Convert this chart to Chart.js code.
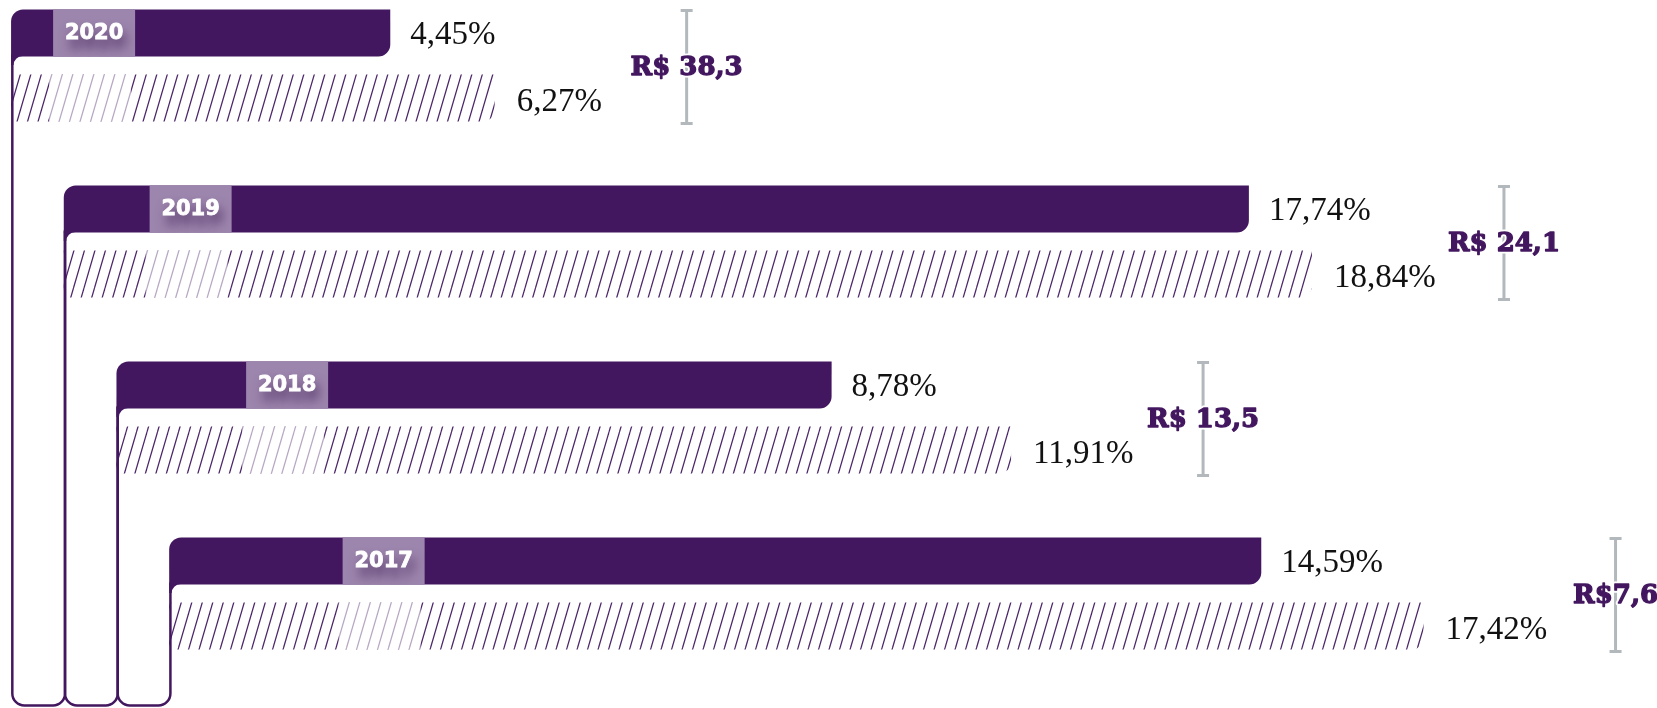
<!DOCTYPE html>
<html>
<head>
<meta charset="utf-8">
<script src="https://cdn.jsdelivr.net/npm/chart.js@4.4.1/dist/chart.umd.min.js"></script>
<style>
  html, body { margin: 0; padding: 0; background: #fff; }
  canvas { display: block; }
</style>
</head>
<body>
<canvas id="chart" width="1657" height="708"></canvas>
<script>
// values
const years = ['2020', '2019', '2018', '2017'];
const solidValues = [4.45, 17.74, 8.78, 14.59];
const hatchedValues = [6.27, 18.84, 11.91, 17.42];
const revenueLabels = ['R$ 38,3', 'R$ 24,1', 'R$ 13,5', 'R$7,6'];

// layout, in x-axis units (percentage points)
const X_MIN = -2.356, X_MAX = 26.54;
const ZERO_STEP = 1.683;            // each year block starts further right
const LEFT_0 = -2.163, LEFT_STEP = 0.919;
const zeroOf = i => i * ZERO_STEP;
const leftOf = i => LEFT_0 + i * LEFT_STEP;

const PURPLE = '#43175f';
const BOX_PURPLE = '#9d86ae';
const BOX_W = 82;

function makeHatch(color) {
  const c = document.createElement('canvas');
  c.width = 10.5; c.height = 36;
  c.width = 21; c.height = 72;   // two lines per tile keeps spacing at 10.5px
  const g = c.getContext('2d');
  g.strokeStyle = color;
  g.lineWidth = 1.25;
  for (const dx of [-21, -10.5, 0, 10.5, 21]) {
    g.beginPath();
    g.moveTo(dx, 72);
    g.lineTo(dx + 21, 0);
    g.stroke();
  }
  return g.createPattern(c, 'repeat');
}

const fmt = v => v.toFixed(2).replace('.', ',') + '%';

const decor = {
  id: 'decor',
  afterDatasetsDraw(chart) {
    const ctx = chart.ctx;
    const x = chart.scales.x;
    const solid = chart.getDatasetMeta(0).data.map(b => b.getProps(['x', 'y', 'base', 'height'], true));
    const hatch = chart.getDatasetMeta(1).data.map(b => b.getProps(['x', 'y', 'base', 'height'], true));
    const lx = years.map((_, i) => x.getPixelForValue(leftOf(i)) + 1.25);
    const yb = chart.height - 2.5;
    const r = 12;

    // staircase outline on the left
    ctx.save();
    ctx.strokeStyle = PURPLE;
    ctx.fillStyle = PURPLE;
    ctx.lineWidth = 2.5;
    for (let i = 0; i < years.length - 1; i++) {
      const t0 = solid[i].y + solid[i].height / 2 - 2;
      const t1 = solid[i + 1].y + solid[i + 1].height / 2 - 2;
      ctx.beginPath();
      ctx.moveTo(lx[i], t0);
      ctx.lineTo(lx[i], yb - r);
      ctx.arcTo(lx[i], yb, lx[i] + r, yb, r);
      ctx.lineTo(lx[i + 1] - r, yb);
      ctx.arcTo(lx[i + 1], yb, lx[i + 1], yb - r, r);
      ctx.lineTo(lx[i + 1], t1);
      ctx.stroke();
    }
    // inner rounded corner under each solid bar
    years.forEach((_, i) => {
      const gl = lx[i] - 1.25, sb = solid[i].y + solid[i].height / 2 - 0.5, fr = 9;
      ctx.beginPath();
      ctx.moveTo(gl, sb);
      ctx.lineTo(gl + 2.5 + fr, sb);
      ctx.arcTo(gl + 2.5, sb, gl + 2.5, sb + fr, fr);
      ctx.lineTo(gl, sb + fr);
      ctx.closePath();
      ctx.fill();
    });
    ctx.restore();

    years.forEach((yr, i) => {
      const s = solid[i], h = hatch[i];
      const sTop = s.y - s.height / 2;
      const hTop = h.y - h.height / 2, hBot = h.y + h.height / 2;
      const zx = x.getPixelForValue(zeroOf(i));
      const bx = zx - BOX_W;

      // faded hatch under the year tag
      ctx.fillStyle = 'rgba(255,255,255,0.6)';
      ctx.fillRect(bx - 4, hTop, BOX_W, h.height);

      // year tag
      ctx.fillStyle = BOX_PURPLE;
      ctx.fillRect(bx, sTop, BOX_W, s.height);
      ctx.save();
      ctx.beginPath();
      ctx.rect(bx, sTop, BOX_W, s.height);
      ctx.clip();
      ctx.shadowColor = 'rgba(55,20,75,0.85)';
      ctx.shadowBlur = 12;
      ctx.shadowOffsetX = 3;
      ctx.shadowOffsetY = 9;
      ctx.fillStyle = '#ffffff';
      ctx.strokeStyle = '#ffffff';
      ctx.lineWidth = 0.8;
      ctx.font = 'bold 21px "DejaVu Sans"';
      ctx.textAlign = 'center';
      ctx.textBaseline = 'middle';
      ctx.fillText(yr, bx + BOX_W / 2, s.y + 1);
      ctx.shadowColor = 'transparent';
      ctx.strokeText(yr, bx + BOX_W / 2, s.y + 1);
      ctx.restore();

      // value labels
      ctx.fillStyle = '#111111';
      ctx.font = '33px "Liberation Serif"';
      ctx.textAlign = 'left';
      ctx.textBaseline = 'middle';
      ctx.fillText(fmt(solidValues[i]), s.x + 20, s.y + 2);
      ctx.fillText(fmt(hatchedValues[i]), h.x + 22, h.y + 4);

      // bracket with revenue
      const ix = h.x + 192;
      const y0 = sTop + 1, y1 = hBot + 2;
      ctx.save();
      ctx.strokeStyle = '#b3b8bd';
      ctx.lineWidth = 3;
      ctx.beginPath();
      ctx.moveTo(ix, y0); ctx.lineTo(ix, y1);
      ctx.moveTo(ix - 6, y0); ctx.lineTo(ix + 6, y0);
      ctx.moveTo(ix - 6, y1); ctx.lineTo(ix + 6, y1);
      ctx.stroke();
      ctx.font = 'bold 26px "DejaVu Serif"';
      ctx.textAlign = 'center';
      ctx.textBaseline = 'middle';
      ctx.lineJoin = 'round';
      ctx.strokeStyle = '#ffffff';
      ctx.lineWidth = 5;
      const ty = (sTop + hBot) / 2 + 3;
      ctx.strokeText(revenueLabels[i], ix, ty);
      ctx.fillStyle = PURPLE;
      ctx.strokeStyle = PURPLE;
      ctx.lineWidth = 1.3;
      ctx.fillText(revenueLabels[i], ix, ty);
      ctx.strokeText(revenueLabels[i], ix, ty);
      ctx.restore();
    });
  }
};

const ctx = document.getElementById('chart').getContext('2d');
new Chart(ctx, {
  type: 'bar',
  data: {
    labels: years,
    datasets: [{
      label: 'solid',
      data: solidValues.map((v, i) => [leftOf(i), zeroOf(i) + v]),
      backgroundColor: PURPLE,
      borderWidth: 0,
      borderSkipped: false,
      borderRadius: { topLeft: 12, topRight: 0, bottomLeft: 0, bottomRight: 12 },
      clip: false
    }, {
      label: 'hatched',
      data: hatchedValues.map((v, i) => [leftOf(i), zeroOf(i) + v]),
      backgroundColor: makeHatch('#4b2569'),
      borderWidth: 0,
      borderSkipped: false,
      borderRadius: { topLeft: 0, topRight: 0, bottomLeft: 0, bottomRight: 12 },
      clip: false
    }]
  },
  options: {
    indexAxis: 'y',
    responsive: false,
    animation: false,
    categoryPercentage: 0.7386,
    barPercentage: 0.723,
    layout: { padding: { top: 65.5, bottom: 114.5, left: 0, right: 0 } },
    scales: {
      x: { display: false, min: X_MIN, max: X_MAX },
      y: { display: false, offset: false }
    },
    plugins: {
      legend: { display: false },
      tooltip: { enabled: false }
    }
  },
  plugins: [decor]
});
</script>
</body>
</html>
